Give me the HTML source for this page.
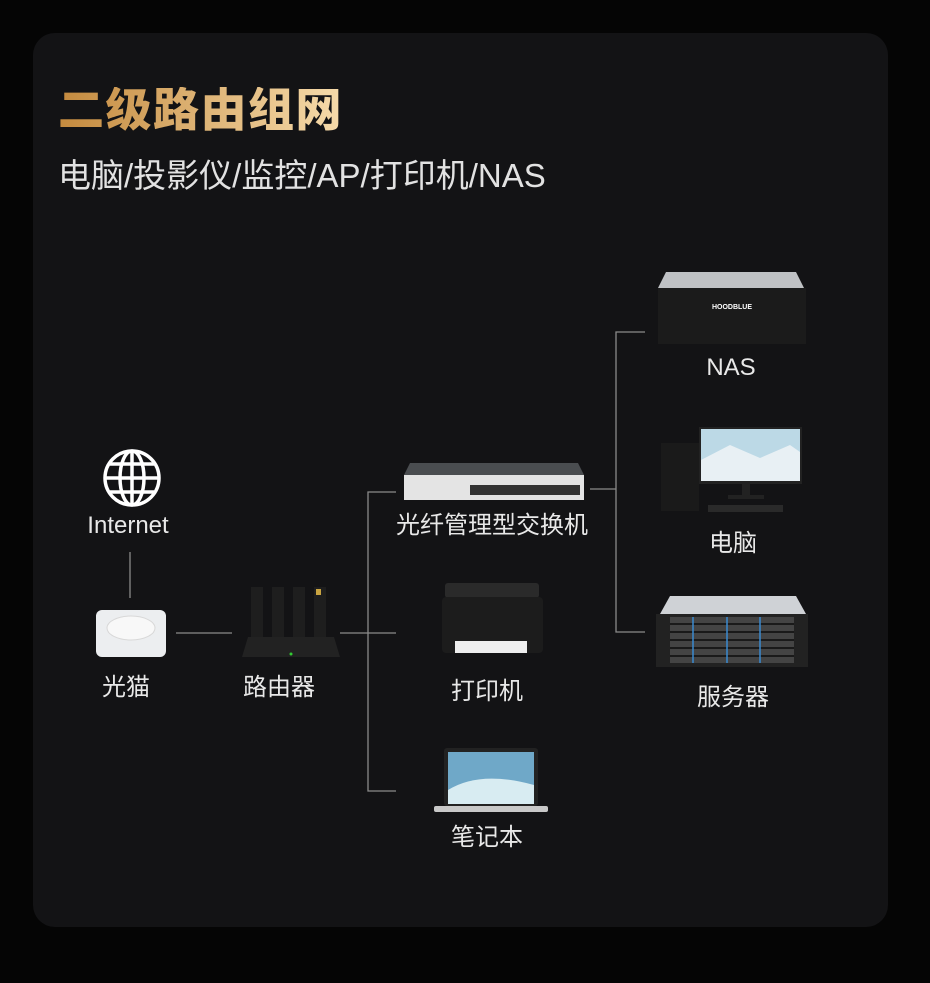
<!DOCTYPE html>
<html><head><meta charset="utf-8"><style>
html,body{margin:0;padding:0;background:#050505;}
body{width:930px;height:983px;position:relative;overflow:hidden;font-family:"Liberation Sans","Noto Sans CJK SC",sans-serif;}
.card{position:absolute;left:33px;top:33px;width:855px;height:894px;border-radius:22px;background:#131315;}
.t{position:absolute;color:#e8e8e8;white-space:nowrap;transform:translateX(-50%);font-size:24px;line-height:1;}
h1{position:absolute;left:58px;top:87px;margin:0;font-size:46px;font-weight:900;line-height:1;letter-spacing:1.5px;
background:linear-gradient(90deg,#c48a3e,#f6dbab);-webkit-background-clip:text;color:transparent;}
.sub{position:absolute;left:58px;top:159px;font-size:33px;color:#e2e2e2;line-height:1;}
svg{position:absolute;left:0;top:0;}
</style></head><body>
<div class="card"></div>
<h1>二级路由组网</h1>
<div class="sub">电脑/投影仪/监控/AP/打印机/NAS</div>
<svg width="930" height="983" viewBox="0 0 930 983">
<g stroke="#8a8a8a" stroke-width="1.3" fill="none">
<line x1="130" y1="552" x2="130" y2="598"/>
<line x1="176" y1="633" x2="232" y2="633"/>
<line x1="340" y1="633" x2="396" y2="633"/>
<polyline points="396,492 368,492 368,791 396,791"/>
<line x1="590" y1="489" x2="616" y2="489"/>
<polyline points="645,332 616,332 616,632 645,632"/>
</g>
<g stroke="#fff" stroke-width="3.5" fill="none">
<circle cx="132" cy="478" r="27"/>
<ellipse cx="132" cy="478" rx="12" ry="27"/>
<line x1="132" y1="451" x2="132" y2="505"/>
<line x1="105" y1="478" x2="159" y2="478"/>
<line x1="110" y1="464" x2="154" y2="464"/>
<line x1="110" y1="492" x2="154" y2="492"/>
</g>
<rect x="96" y="610" width="70" height="47" rx="6" fill="#eceef0"/>
<ellipse cx="131" cy="628" rx="24" ry="12" fill="#f8f8f8" stroke="#d8d8d8"/>
<g fill="#1e1e1e">
<rect x="251" y="587" width="12" height="50"/><rect x="272" y="587" width="12" height="50"/>
<rect x="293" y="587" width="12" height="50"/><rect x="314" y="587" width="12" height="50"/>
<path d="M248 637 H334 L340 657 H242 Z" fill="#222"/>
</g>
<rect x="316" y="589" width="5" height="6" fill="#c9a441"/>
<circle cx="291" cy="654" r="1.5" fill="#3c3"/>
<path d="M410 463 H578 L584 475 H404 Z" fill="#4a4d50"/>
<rect x="404" y="475" width="180" height="25" fill="#e4e4e4"/>
<rect x="470" y="485" width="110" height="10" fill="#333"/>
<rect x="445" y="583" width="94" height="15" rx="3" fill="#2a2a2a"/>
<rect x="442" y="597" width="101" height="56" rx="4" fill="#1c1c1c"/>
<rect x="455" y="641" width="72" height="12" fill="#eee"/>
<rect x="444" y="748" width="94" height="58" rx="3" fill="#222"/>
<rect x="448" y="752" width="86" height="52" fill="#6fa8c8"/>
<path d="M448 790 Q480 770 534 785 V804 H448Z" fill="#d8ecf2"/>
<rect x="434" y="806" width="114" height="6" rx="2" fill="#c8c8c8"/>
<path d="M666 272 H796 L804 288 H658 Z" fill="#bfc1c4"/>
<rect x="658" y="288" width="148" height="56" fill="#1b1b1b"/>
<text x="732" y="309" font-size="7" fill="#fff" text-anchor="middle" font-family="Liberation Sans" font-weight="bold">HOODBLUE</text>
<rect x="661" y="443" width="38" height="68" fill="#1a1a1a"/>
<rect x="699" y="427" width="103" height="57" fill="#222"/>
<rect x="701" y="429" width="99" height="52" fill="#bcd9e6"/>
<path d="M701 460 L730 445 L760 458 L790 445 L800 452 V481 H701Z" fill="#e8f0f4"/>
<rect x="742" y="484" width="8" height="12" fill="#222"/>
<rect x="728" y="495" width="36" height="4" fill="#222"/>
<rect x="708" y="505" width="75" height="7" fill="#2a2a2a"/>
<path d="M670 596 H796 L806 614 H660 Z" fill="#cfd2d6"/>
<rect x="656" y="614" width="152" height="53" fill="#222"/>
<rect x="670" y="617" width="124" height="46" fill="#444"/>
<g stroke="#1a1a1a" stroke-width="2"><line x1="670" y1="624" x2="794" y2="624"/><line x1="670" y1="632" x2="794" y2="632"/><line x1="670" y1="640" x2="794" y2="640"/><line x1="670" y1="648" x2="794" y2="648"/><line x1="670" y1="656" x2="794" y2="656"/></g>
<g stroke="#3a8ad0" stroke-width="1.5"><line x1="693" y1="617" x2="693" y2="663"/><line x1="727" y1="617" x2="727" y2="663"/><line x1="760" y1="617" x2="760" y2="663"/></g>
</svg>
<div class="t" style="left:128px;top:514px;">Internet</div>
<div class="t" style="left:126px;top:676px;">光猫</div>
<div class="t" style="left:279px;top:676px;">路由器</div>
<div class="t" style="left:492px;top:514px;">光纤管理型交换机</div>
<div class="t" style="left:487px;top:680px;">打印机</div>
<div class="t" style="left:487px;top:826px;">笔记本</div>
<div class="t" style="left:731px;top:356px;">NAS</div>
<div class="t" style="left:733px;top:532px;">电脑</div>
<div class="t" style="left:733px;top:686px;">服务器</div>
</body></html>
